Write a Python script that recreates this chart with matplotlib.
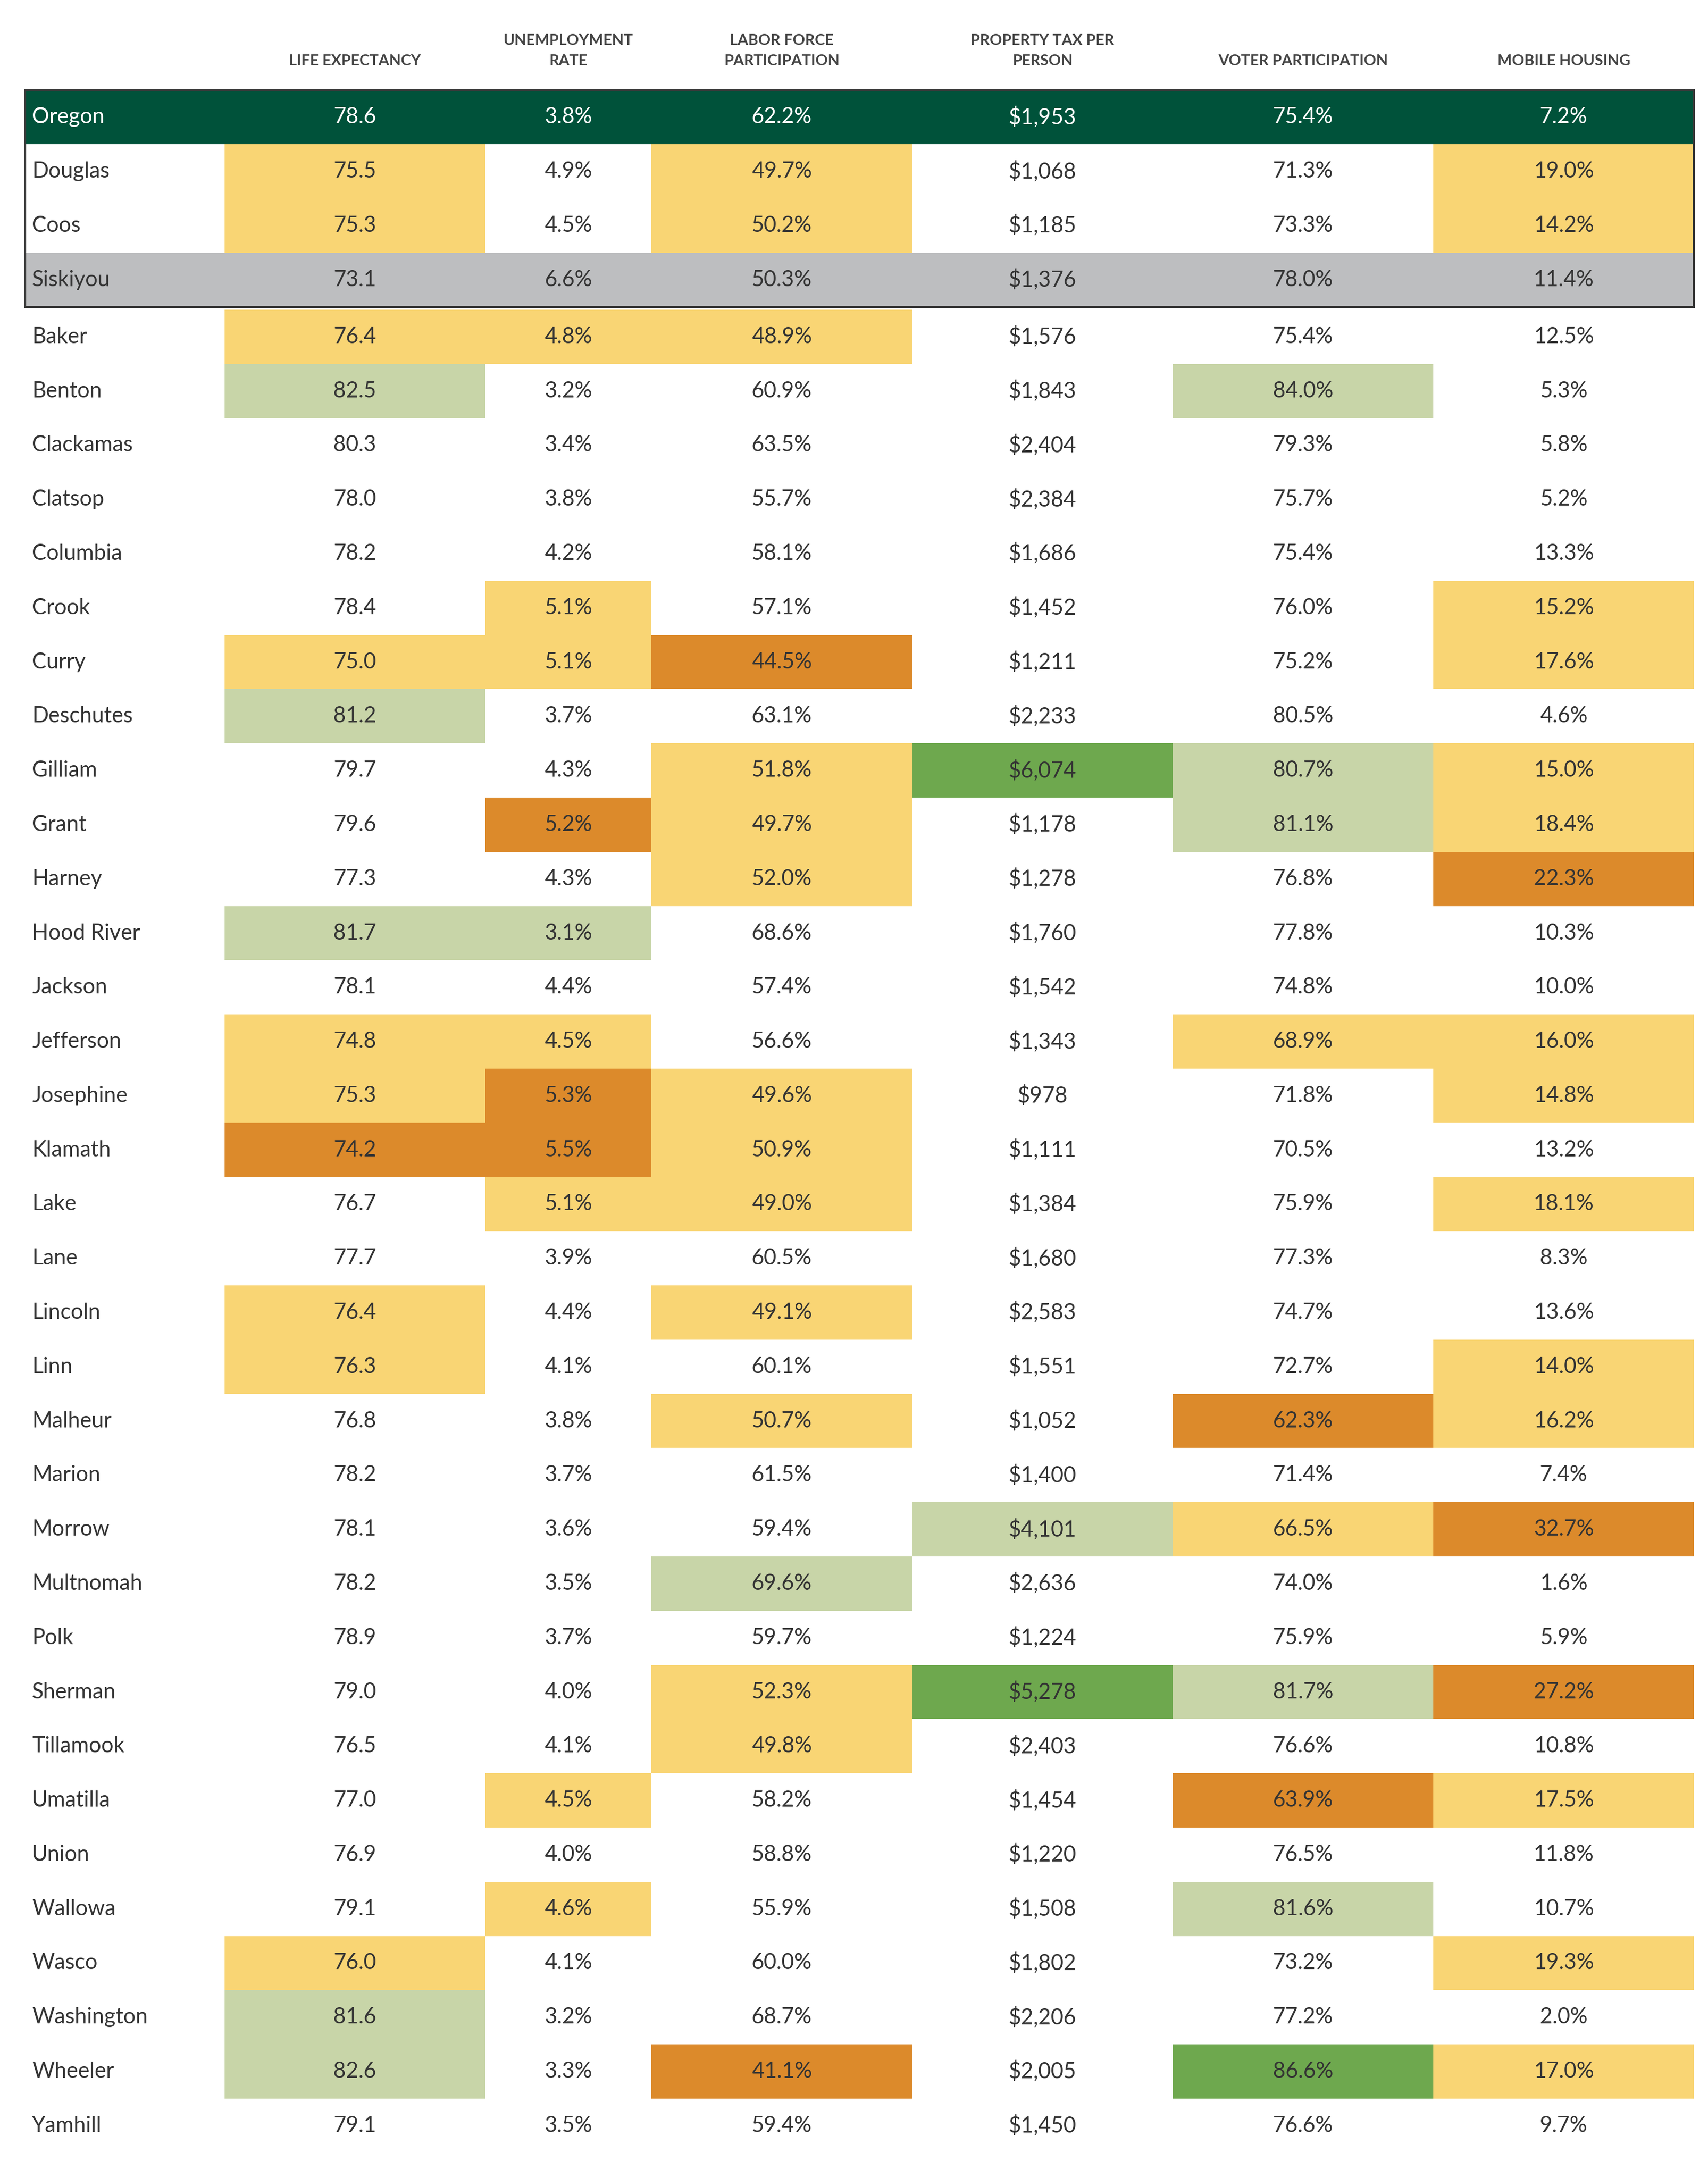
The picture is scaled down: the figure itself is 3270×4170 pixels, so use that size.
import matplotlib.pyplot as plt
from matplotlib.patches import Rectangle

headers = ["LIFE EXPECTANCY", "UNEMPLOYMENT\nRATE", "LABOR FORCE\nPARTICIPATION",
           "PROPERTY TAX PER\nPERSON", "VOTER PARTICIPATION", "MOBILE HOUSING"]

counties = ["Oregon", "Douglas", "Coos", "Siskiyou", "Baker", "Benton", "Clackamas", "Clatsop",
            "Columbia", "Crook", "Curry", "Deschutes", "Gilliam", "Grant", "Harney", "Hood River",
            "Jackson", "Jefferson", "Josephine", "Klamath", "Lake", "Lane", "Lincoln", "Linn",
            "Malheur", "Marion", "Morrow", "Multnomah", "Polk", "Sherman", "Tillamook", "Umatilla",
            "Union", "Wallowa", "Wasco", "Washington", "Wheeler", "Yamhill"]

life = [78.6, 75.5, 75.3, 73.1, 76.4, 82.5, 80.3, 78.0, 78.2, 78.4, 75.0, 81.2, 79.7, 79.6, 77.3,
        81.7, 78.1, 74.8, 75.3, 74.2, 76.7, 77.7, 76.4, 76.3, 76.8, 78.2, 78.1, 78.2, 78.9, 79.0,
        76.5, 77.0, 76.9, 79.1, 76.0, 81.6, 82.6, 79.1]
unemp = [3.8, 4.9, 4.5, 6.6, 4.8, 3.2, 3.4, 3.8, 4.2, 5.1, 5.1, 3.7, 4.3, 5.2, 4.3, 3.1, 4.4, 4.5,
         5.3, 5.5, 5.1, 3.9, 4.4, 4.1, 3.8, 3.7, 3.6, 3.5, 3.7, 4.0, 4.1, 4.5, 4.0, 4.6, 4.1, 3.2,
         3.3, 3.5]
labor = [62.2, 49.7, 50.2, 50.3, 48.9, 60.9, 63.5, 55.7, 58.1, 57.1, 44.5, 63.1, 51.8, 49.7, 52.0,
         68.6, 57.4, 56.6, 49.6, 50.9, 49.0, 60.5, 49.1, 60.1, 50.7, 61.5, 59.4, 69.6, 59.7, 52.3,
         49.8, 58.2, 58.8, 55.9, 60.0, 68.7, 41.1, 59.4]
proptax = [1953, 1068, 1185, 1376, 1576, 1843, 2404, 2384, 1686, 1452, 1211, 2233, 6074, 1178, 1278,
           1760, 1542, 1343, 978, 1111, 1384, 1680, 2583, 1551, 1052, 1400, 4101, 2636, 1224, 5278,
           2403, 1454, 1220, 1508, 1802, 2206, 2005, 1450]
voter = [75.4, 71.3, 73.3, 78.0, 75.4, 84.0, 79.3, 75.7, 75.4, 76.0, 75.2, 80.5, 80.7, 81.1, 76.8,
         77.8, 74.8, 68.9, 71.8, 70.5, 75.9, 77.3, 74.7, 72.7, 62.3, 71.4, 66.5, 74.0, 75.9, 81.7,
         76.6, 63.9, 76.5, 81.6, 73.2, 77.2, 86.6, 76.6]
mobile = [7.2, 19.0, 14.2, 11.4, 12.5, 5.3, 5.8, 5.2, 13.3, 15.2, 17.6, 4.6, 15.0, 18.4, 22.3, 10.3,
          10.0, 16.0, 14.8, 13.2, 18.1, 8.3, 13.6, 14.0, 16.2, 7.4, 32.7, 1.6, 5.9, 27.2, 10.8, 17.5,
          11.8, 10.7, 19.3, 2.0, 17.0, 9.7]

# highlight codes per row: life, unemp, labor, prop, voter, mobile
codes = ["......", "y.y..y", "y.y..y", "......", "yyy...", "l...l.", "......", "......",
         "......", ".y...y", "yyo..y", "l.....", "..ygly", ".oy.ly", "..y..o", "ll....",
         "......", "yy..yy", "yoy..y", "ooy...", ".yy..y", "......", "y.y...", "y....y",
         "..y.oy", "......", "...lyo", "..l...", "......", "..yglo", "..y...", ".y..oy",
         "......", ".y..l.", "y....y", "l.....", "l.o.gy", "......"]

palette = {"y": "#f9d574", "o": "#dc8a2b", "l": "#c8d5a8", "g": "#6ea84e"}

W, H = 1232, 1571
col_edges = [18, 162, 350, 470, 658, 846, 1034, 1222]
row_h = 39.1
top = 65

fig = plt.figure(figsize=(32.7, 41.7), dpi=100)
ax = fig.add_axes([0, 0, 1, 1])
ax.set_xlim(0, W)
ax.set_ylim(H, 0)
ax.axis("off")

font = "Lato"
txt = "#333333"

for j, h in enumerate(headers):
    cx = (col_edges[j + 1] + col_edges[j + 2]) / 2
    ax.text(cx, 49, h, ha="center", va="bottom", fontsize=21, fontweight="bold",
            color="#444444", family=font, linespacing=1.6)

for i, name in enumerate(counties):
    y0 = top + i * row_h + (2 if i >= 4 else 0)
    cy = y0 + row_h / 2
    vals = [f"{life[i]:.1f}", f"{unemp[i]:.1f}%", f"{labor[i]:.1f}%", f"${proptax[i]:,}",
            f"{voter[i]:.1f}%", f"{mobile[i]:.1f}%"]
    color = txt
    if name == "Oregon":
        ax.add_patch(Rectangle((col_edges[0], y0), col_edges[-1] - col_edges[0], row_h,
                               color="#00523a", lw=0))
        color = "white"
    elif name == "Siskiyou":
        ax.add_patch(Rectangle((col_edges[0], y0), col_edges[-1] - col_edges[0], row_h,
                               color="#bdbec0", lw=0))
    for j, v in enumerate(vals):
        c = codes[i][j]
        if c in palette:
            ax.add_patch(Rectangle((col_edges[j + 1], y0), col_edges[j + 2] - col_edges[j + 1],
                                   row_h, color=palette[c], lw=0))
        cx = (col_edges[j + 1] + col_edges[j + 2]) / 2
        ax.text(cx, cy, v, ha="center", va="center", fontsize=30, color=color, family=font)
    ax.text(col_edges[0] + 5, cy, name, ha="left", va="center", fontsize=30, color=color,
            family=font)

# box around Oregon comparison group
ax.add_patch(Rectangle((col_edges[0], top), col_edges[-1] - col_edges[0], 4 * row_h,
                       fill=False, ec="#3a3a3a", lw=3))

fig.savefig("out.png", dpi=100)
